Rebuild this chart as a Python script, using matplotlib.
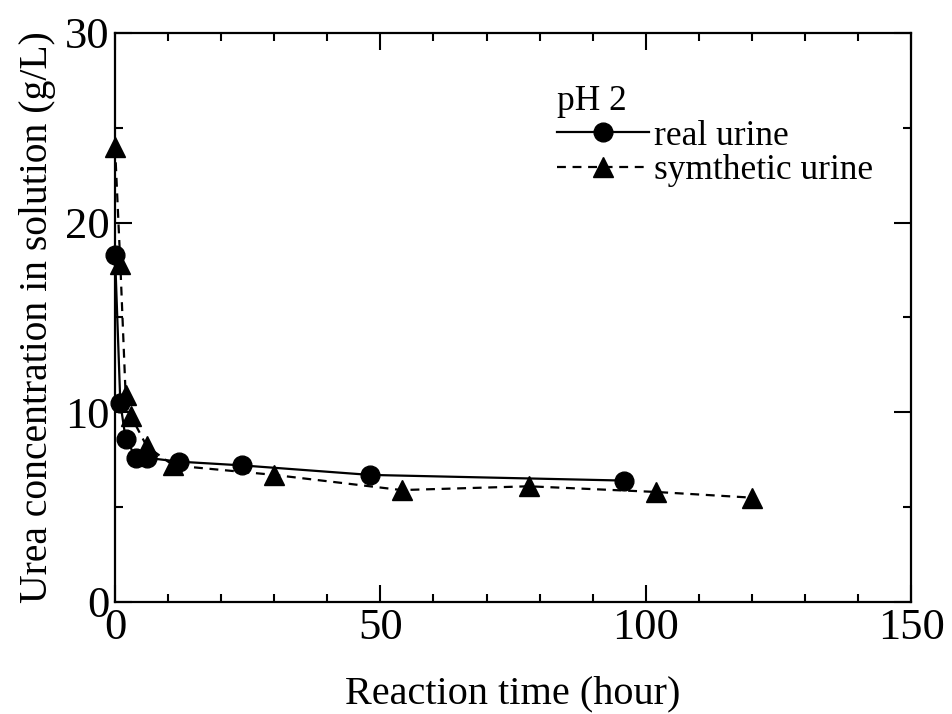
import matplotlib.pyplot as plt
from matplotlib.ticker import MultipleLocator

plt.rcParams['font.family'] = ['Liberation Serif', 'DejaVu Serif']

# real urine
t_real = [0, 1, 2, 4, 6, 12, 24, 48, 96]
c_real = [18.3, 10.5, 8.6, 7.6, 7.6, 7.4, 7.2, 6.7, 6.4]

# synthetic urine
t_syn = [0, 1, 2, 3, 6, 11, 30, 54, 78, 102, 120]
c_syn = [24.0, 17.8, 10.9, 9.8, 8.2, 7.2, 6.7, 5.9, 6.1, 5.8, 5.5]

fig = plt.figure(figsize=(9.53, 7.14), dpi=100)
ax = fig.add_axes([0.1207, 0.1569, 0.8353, 0.7969])

ax.plot(t_real, c_real, '-', color='black', lw=1.6, marker='o', ms=13.5,
        label='real urine', clip_on=False, zorder=3)
ax.plot(t_syn, c_syn, '--', color='black', lw=1.6, marker='^', ms=14.5,
        dashes=(4, 3), label='symthetic urine', clip_on=False, zorder=3)

ax.set_xlim(0, 150)
ax.set_ylim(0, 30)
ax.xaxis.set_major_locator(MultipleLocator(50))
ax.xaxis.set_minor_locator(MultipleLocator(10))
ax.yaxis.set_major_locator(MultipleLocator(10))
ax.yaxis.set_minor_locator(MultipleLocator(5))
ax.tick_params(which='both', direction='in', top=True, right=True, width=1.5)
ax.tick_params(which='major', length=12, labelsize=32, pad=4)
ax.tick_params(which='minor', length=6)
for s in ax.spines.values():
    s.set_linewidth(1.6)

ax.set_xlabel('Reaction time (hour)', fontsize=29, labelpad=20)
ax.set_ylabel('Urea concentration in solution (g/L)', fontsize=28.5, labelpad=6)

leg = ax.legend(title='pH 2', loc='upper left', bbox_to_anchor=(0.555, 0.908),
                frameon=False, fontsize=25.5, title_fontsize=25.5,
                handlelength=2.6, handletextpad=0.15, labelspacing=0.04,
                borderpad=0, borderaxespad=0)
leg._legend_box.align = 'left'

fig.savefig('out.png', dpi=100)
